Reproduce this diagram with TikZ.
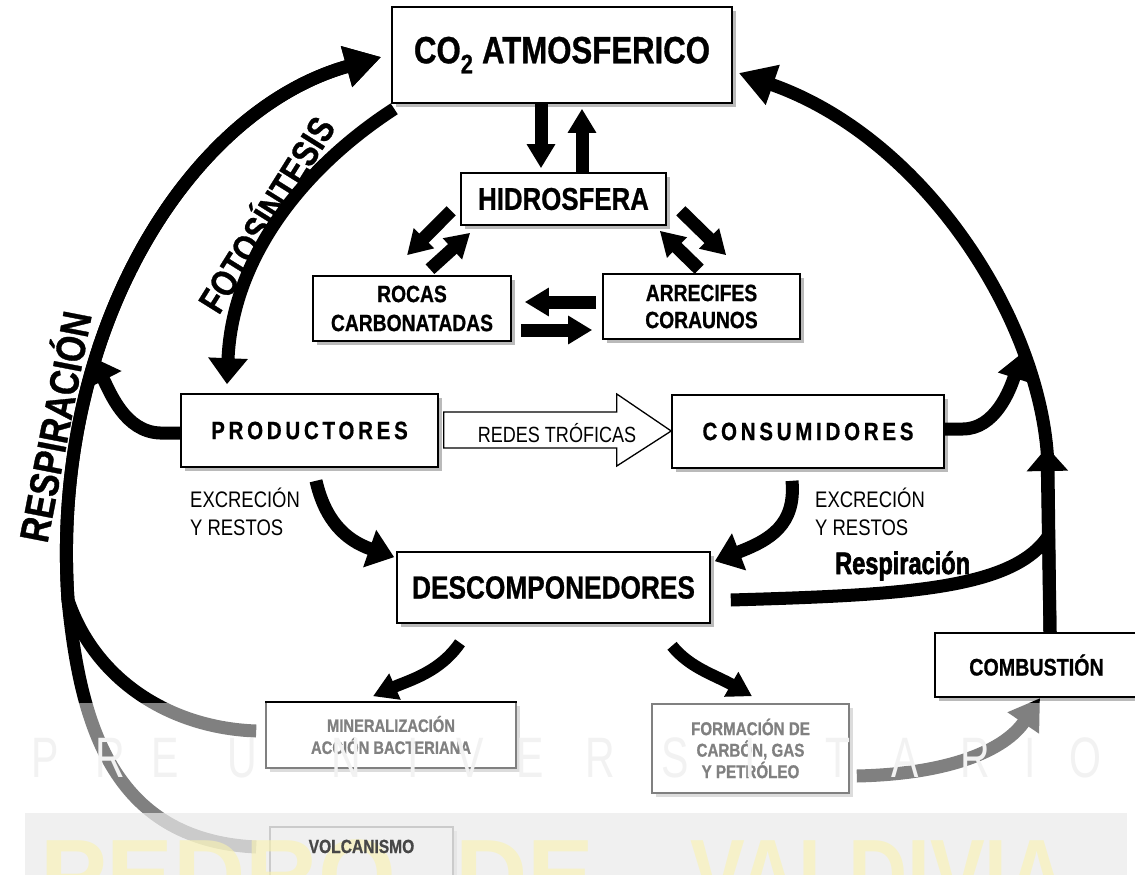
\documentclass[tikz,border=0pt]{standalone}
\usepackage{fontspec}
\setmainfont{Liberation Sans}
\newfontfamily\nar[FakeStretch=0.82]{Liberation Sans}
\newfontfamily\narb[FakeStretch=0.82,FakeBold=0.8]{Liberation Sans}
\newfontfamily\narsp[FakeStretch=0.82,FakeBold=0.6,LetterSpace=15]{Liberation Sans}
\newfontfamily\xnar[FakeStretch=0.76,FakeBold=2]{Liberation Sans}
\newfontfamily\wmfont[FakeStretch=0.72]{Liberation Sans}
\usetikzlibrary{arrows.meta,shadows,calc}
\newcommand\fsz[1]{\fontsize{#1}{#1}\selectfont}
\definecolor{wmyellow}{RGB}{250,243,175}
\begin{document}
\begin{tikzpicture}[x=1pt,y=-1pt,
  box/.style={draw, line width=1.6pt, fill=white, inner sep=0pt, align=center,
    drop shadow={shadow xshift=4pt,shadow yshift=-4pt,fill=black!27,opacity=1}},
  flow/.style={line width=13pt, -{Triangle[width=38pt,length=26pt]}},
  midflow/.style={line width=12pt, -{Triangle[width=27pt,length=24pt]}},
  bigflow/.style={line width=13pt, -{Triangle[width=40pt,length=36pt]}},
  small/.style={line width=13pt, -{Triangle[width=27pt,length=24pt]}},
  plain/.style={line width=13pt},
  wm/.style={font=\wmfont\fsz{57}, text=black!5, inner sep=0pt},
  pdv/.style={font=\bfseries\fsz{100}, text=wmyellow, inner sep=0pt, anchor=base west},
]
\useasboundingbox (0,0) rectangle (1135,875);
\fill[white] (0,0) rectangle (1135,875);

% ---------- boxes ----------
\node[box, minimum width=340pt, minimum height=96pt, font=\narb\bfseries\fsz{38}] (co2) at (562,55) {CO\textsubscript{2} ATMOSFERICO};
\node[box, minimum width=205pt, minimum height=52pt, font=\narb\bfseries\fsz{31.5}] (hidro) at (563.5,199) {HIDROSFERA};
\node[box, minimum width=198pt, minimum height=65pt, font=\narb\bfseries\fontsize{23.5}{29}\selectfont] (rocas) at (412,308.5) {ROCAS\\CARBONATADAS};
\node[box, minimum width=197pt, minimum height=65pt, font=\narb\bfseries\fontsize{23.5}{27}\selectfont] (arrec) at (701.5,306.5) {ARRECIFES\\CORAUNOS};
\node[box, minimum width=257pt, minimum height=73pt, font=\narsp\bfseries\fsz{25}] (prod) at (309.5,430.5) {PRODUCTORES};
\node[box, minimum width=272pt, minimum height=73pt, font=\narsp\bfseries\fsz{25}] (cons) at (808,431.5) {CONSUMIDORES};
\node[box, minimum width=313pt, minimum height=71pt, font=\narb\bfseries\fsz{32}] (desc) at (553.5,587.5) {DESCOMPONEDORES};
\node[box, minimum width=250pt, minimum height=66pt, font=\narb\bfseries\fontsize{18}{22}\selectfont] (mine) at (391,735) {MINERALIZACIÓN\\ACCIÓN BACTERIANA};
\node[box, minimum width=197pt, minimum height=89pt, font=\narb\bfseries\fontsize{18.5}{21.5}\selectfont] (form) at (750.5,748.5) {FORMACIÓN DE\\CARBÓN, GAS\\Y PETRÓLEO};
\node[box, line width=2.2pt, minimum width=203pt, minimum height=64pt, font=\narb\bfseries\fsz{24}] (comb) at (1036.5,665) {COMBUSTIÓN};
\node[box, minimum width=183pt, minimum height=96pt] (volc) at (361.5,875) {};

% ---------- hidrosfera exchanges ----------
\draw[small] ($(co2.south)+(-21,0)$) -- ($(hidro.north)+(-22.5,-4)$);
\draw[small] ($(hidro.north)+(18.5,0)$) -- ($(co2.south)+(20,5)$);
\draw[small] ($(hidro.south west)+(-9,-15)$) -- ($(rocas.north)+(-5,-20)$);
\draw[small] ($(rocas.north)+(18,-6)$) -- ($(hidro.south west)+(10,7)$);
\draw[small] ($(hidro.south east)+(14,-15)$) -- ($(arrec.north west)+(124,-18)$);
\draw[small] ($(arrec.north west)+(97,-4)$) -- ($(hidro.south east)+(-7,5)$);
\draw[small] ($(arrec.west)+(-6,-4.5)$) -- ($(rocas.east)+(13,-6.5)$);
\draw[small] ($(rocas.east)+(9,21.5)$) -- ($(arrec.west)+(-10,23.5)$);

% ---------- redes troficas ----------
\draw[line width=1.3pt, fill=white] ($(prod.east)+(5,-18.5)$) -- ++(173,0) -- ++(0,-18)
  -- ($(cons.west)+(0,-0.5)$) -- ($(prod.east)+(178,35.5)$) -- ++(0,-18)
  -- ($(prod.east)+(5,17.5)$) -- cycle;
\node[font=\nar\fsz{22}, anchor=base, inner sep=0pt] (redes) at (557,442) {REDES TRÓFICAS};

% ---------- big cycle arrows ----------
\draw[bigflow] ($(volc.west)+(-13,-28)$) .. controls (110,840) and (80,720) .. (68,600)
  .. controls (50,330) and (190,110) .. ($(co2.west)+(-10,2)$);
\draw[bigflow] ($(mine.west)+(-9,-4)$) .. controls (170,728) and (95,680) .. (68,600)
  .. controls (50,330) and (190,110) .. ($(co2.west)+(-10,2)$);
\draw[flow] ($(co2.south west)+(3,5)$) .. controls (300,170) and (232,260) .. ($(prod.north)+(-82.5,-9)$);
\draw[bigflow] ($(comb.north)+(13.5,0)$) -- (1048,470) .. controls (1046,330) and (930,140) .. ($(co2.east)+(6,18)$);
\draw[line width=13pt, -{Triangle[width=40pt,length=24pt]}] ($(comb.north)+(13.5,0)$) -- (1047,447);

\draw[flow] ($(prod.west)+(0,2.5)$) -- ++(-20,0) .. controls (125,432) and (110,392) .. (92,357);
\draw[line width=13pt, -{Triangle[width=32pt,length=26pt]}] ($(cons.east)+(0,-2.5)$) -- ++(18,0) .. controls (995,429) and (1010,390) .. (1022,353);

\draw[flow] ($(prod.south)+(6.5,13)$) .. controls (325,520) and (345,540) .. ($(desc.north west)+(-2,6)$);
\draw[flow] ($(cons.south)+(-16,12)$) .. controls (796,525) and (770,540) .. ($(desc.north east)+(4,10)$);
\draw[midflow] ($(desc.south)+(-93.5,19)$) .. controls (440,672) and (410,680) .. ($(mine.north)+(-18,-5)$);
\draw[midflow] ($(desc.south)+(118.5,22)$) .. controls (690,668) and (715,675) .. ($(form.north)+(1.5,-7)$);
\draw[line width=13pt, -{Triangle[width=36pt,length=30pt]}] ($(form.east)+(7,27.5)$) .. controls (950,774) and (1005,750) .. ($(comb.south)+(3.5,0)$);
\coordinate (merge) at (1047,538);
\draw[plain] ($(desc.east)+(20,12.5)$) .. controls (900,595) and (1010,590) .. (merge);

% ---------- labels ----------
\node[font=\narb\bfseries\fsz{37}, rotate=58, inner sep=0pt] (foto) at (264,213) {FOTOSÍNTESIS};
\node[font=\narb\bfseries\fsz{41}, rotate=79, inner sep=0pt] (resp1) at (52,426) {RESPIRACIÓN};
\node[font=\xnar\bfseries\fsz{31}, anchor=base west, inner sep=0pt] (resp2) at (835,574) {Respiración};
\node[font=\nar\fontsize{22.5}{28}\selectfont, align=left, anchor=north west, inner sep=0pt] (exc1) at (190,488) {EXCRECIÓN\\Y RESTOS};
\node[font=\nar\fontsize{22.5}{28}\selectfont, align=left, anchor=north west, inner sep=0pt] (exc2) at (815,488) {EXCRECIÓN\\Y RESTOS};

% ---------- watermark ----------
\fill[white, opacity=0.5] (0,703) rectangle (1135,875);
\foreach \l/\x [count=\i] in {P/45,R/110,E/165,U/242,N/346,I/413,V/470,E/530,R/600,S/675,I/750,T/838,A/905,R/975,I/1030,O/1085}
  \node[wm] (wm\i) at (\x,758) {\l};
\fill[black!8, opacity=0.7] (25,813) rectangle (1127,875);
\begin{scope}[opacity=0.6]
\node[pdv] (pdv1) at (40,909) {PEDRO};
\node[pdv] (pdv2) at (455,909) {DE};
\node[pdv, font=\nar\bfseries\fsz{100}] (pdv3) at (690,909) {VALDIVIA};
\end{scope}
\node[font=\narb\bfseries\fsz{19}, anchor=base, inner sep=0pt, text=black!72] (volct) at (361.5,853) {VOLCANISMO};
\end{tikzpicture}
\end{document}
